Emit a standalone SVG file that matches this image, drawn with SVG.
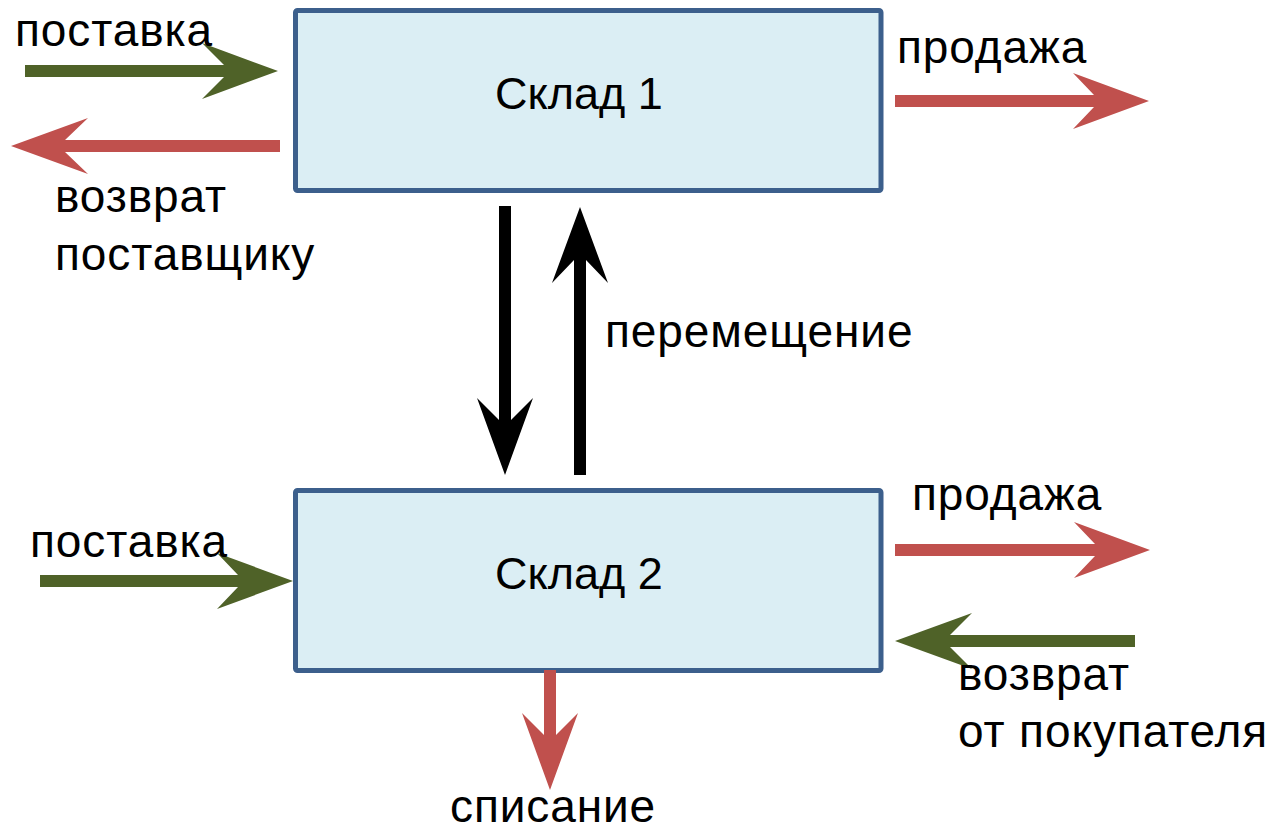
<svg xmlns="http://www.w3.org/2000/svg" width="1272" height="830" viewBox="0 0 1272 830">
<style>
.box{fill:#dbeef4;stroke:#3c5f8c;stroke-width:5}
.t{font-family:"Liberation Sans",Arial,sans-serif;font-size:46px;letter-spacing:0.9px;fill:#000}
.c{font-family:"Liberation Sans",Arial,sans-serif;font-size:45px;fill:#000}
.g{fill:#4f6228}
.r{fill:#c0504d}
.k{fill:#000}
</style>
<rect width="1272" height="830" fill="#fff"/>
<g id="sklad1">
<rect class="box" x="295.5" y="10.5" width="585.5" height="180" rx="2"/>
<text class="c" x="579" y="109" text-anchor="middle">Склад 1</text>
</g>
<g id="sklad2">
<rect class="box" x="295.5" y="490.5" width="585.5" height="180" rx="2"/>
<text class="c" x="579" y="589" text-anchor="middle">Склад 2</text>
</g>
<g id="connectors">
<polygon class="g" points="25,65 224,65 202,43 278,71 202,99 224,77 25,77"/>
<polygon class="r" points="280,140 65,140 88,118 11,146 88,174 65,152 280,152"/>
<polygon class="r" points="895,95 1094,95 1073,73 1149,101 1073,129 1094,107 895,107"/>
<polygon class="g" points="40,575 238,575 217,553 293,581 217,609 238,587 40,587"/>
<polygon class="r" points="895,544 1095,544 1074,522 1150,550 1074,578 1095,556 895,556"/>
<polygon class="g" points="1135,635 950,635 972,613 895,641 972,669 950,647 1135,647"/>
<polygon class="r" points="544,670 544,735 522,713 550,790 578,713 556,735 556,670"/>
<polygon class="k" points="499,206 499,420 477,398 505,475 533,398 511,420 511,206"/>
<polygon class="k" points="574,475 574,260 552,283 580,207 608,283 586,260 586,475"/>
</g>
<g id="labels">
<text class="t" x="15" y="46">поставка</text>
<text class="t" x="55" y="212">возврат</text>
<text class="t" x="55" y="270">поставщику</text>
<text class="t" x="897" y="63">продажа</text>
<text class="t" x="605" y="347">перемещение</text>
<text class="t" x="30" y="557">поставка</text>
<text class="t" x="912" y="510">продажа</text>
<text class="t" x="958" y="690">возврат</text>
<text class="t" x="958" y="747">от покупателя</text>
<text class="t" x="450" y="822">списание</text>
</g>
</svg>
